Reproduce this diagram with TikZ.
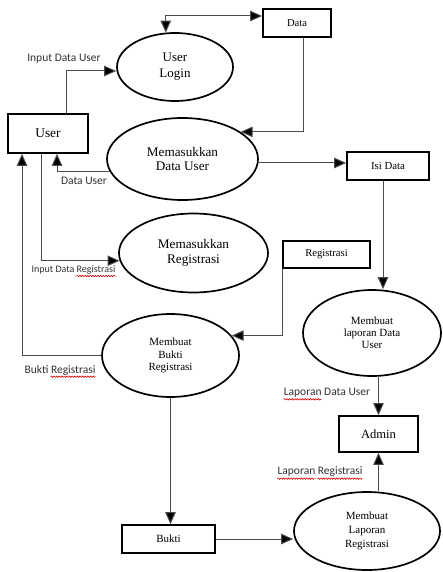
\documentclass[tikz,border=0pt]{standalone}
\usepackage{fontspec}
\setmainfont{Liberation Serif}
\newfontfamily\lblfont{Carlito}
\usetikzlibrary{arrows.meta,calc,shapes.geometric,decorations.pathmorphing}
\begin{document}
\begin{tikzpicture}[x=1pt,y=-1pt,
  proc/.style={ellipse,draw=black,line width=1.7pt,inner sep=0pt,align=center},
  store/.style={rectangle,draw=black,line width=1.7pt,inner sep=0pt,align=center},
  tip/.style={Triangle[length=12pt,width=10.5pt,fill=black]},
  conn/.style={draw=black!70,line width=1pt,-{Triangle[length=12pt,width=10.5pt,fill=black]}},
  conn2/.style={draw=black!70,line width=1pt,{Triangle[length=12pt,width=10.5pt,fill=black]}-{Triangle[length=12pt,width=10.5pt,fill=black]}},
  lbl/.style={inner sep=0pt,text=black!80,font=\lblfont\fontsize{11.5}{13}\selectfont},
  squig/.style={draw=red!85!black,line width=0.6pt,decorate,decoration={snake,amplitude=0.7pt,segment length=2.6pt}}
]
\useasboundingbox (0,0) rectangle (443,572);
\fill[white] (0,0) rectangle (443,572);

% processes
\node[proc,minimum width=116pt,minimum height=68pt,font=\fontsize{13}{16}\selectfont] (login) at (175,67) {User\\Login};
\node[proc,minimum width=151pt,minimum height=82pt,font=\fontsize{13.2}{14.5}\selectfont] (mdu) at (182.5,159) {Memasukkan\\Data User};
\node[proc,minimum width=149pt,minimum height=79pt,font=\fontsize{13.2}{15}\selectfont] (mr) at (193.5,253) {Memasukkan\\Registrasi};
\node[proc,minimum width=137pt,minimum height=83pt,font=\fontsize{11}{12.7}\selectfont] (mbr) at (170.5,355.5) {Membuat\\Bukti\\Registrasi};
\node[proc,minimum width=138pt,minimum height=86pt,font=\fontsize{11}{12}\selectfont] (mlu) at (372,333) {Membuat\\laporan Data\\User};
\node[proc,minimum width=146pt,minimum height=78pt,font=\fontsize{11}{14}\selectfont] (mlr) at (367,531) {Membuat\\Laporan\\Registrasi};

% entities / stores
\node[store,minimum width=68pt,minimum height=28pt,font=\fontsize{10.6}{12}\selectfont] (data) at (297,23) {Data};
\node[store,minimum width=80pt,minimum height=39pt,font=\fontsize{13.4}{15}\selectfont] (user) at (48,133.5) {User};
\node[store,minimum width=82pt,minimum height=28pt,font=\fontsize{10.8}{12}\selectfont] (isi) at (388,166) {Isi Data};
\node[store,minimum width=87pt,minimum height=27pt,font=\fontsize{10.6}{12}\selectfont] (reg) at (326.5,254.5) {Registrasi};
\node[store,minimum width=79pt,minimum height=36pt,font=\fontsize{12.6}{14}\selectfont] (admin) at (378.5,434) {Admin};
\node[store,minimum width=93pt,minimum height=28pt,font=\fontsize{11}{12}\selectfont] (bukti) at (168.5,539) {Bukti};

% connectors
\draw[conn2] (login.105) |- ([yshift=7pt]data.west);
\draw[conn] ([xshift=18pt]user.north) |- ([yshift=-4pt]login.west);
\draw[conn] (mdu.190) -| ([xshift=9pt]user.south);
\draw[conn] ([xshift=6pt]data.south) |- (mdu.25);
\draw[conn] (mdu.357) -- (mdu.357 -| isi.west);
\coordinate (isiout) at ([xshift=-5pt]isi.south);
\draw[conn] (isiout) -- (isiout |- mlu.north);
\draw[conn] (admin.north |- mlu.south) -- (admin.north);
\draw[conn] (admin.south |- mlr.north) -- (admin.south);
\draw[conn] (bukti.east) -- (bukti.east -| mlr.west);
\draw[conn] (mbr.south) -- (mbr.south |- bukti.north);
\draw[conn] (reg.south west) |- (mbr.18);
\draw[conn] ([xshift=-7pt]user.south) |- (mr.186);
\draw[conn] (mbr.west) -| ([xshift=-26pt]user.south);

% labels
\node[lbl] (l1) at (64,59) {Input Data User};
\node[lbl] (l2) at (84,181) {Data User};
\node[lbl,font=\lblfont\fontsize{10}{12}\selectfont] (l3) at (73.5,270) {Input Data Registrasi};
\node[lbl] (l4) at (60,370) {Bukti Registrasi};
\node[lbl] (l5) at (327,393) {Laporan Data User};
\node[lbl] (l6) at (320,472) {Laporan Registrasi};

% spell-check underlines
\draw[squig] ([xshift=-39pt,yshift=-1.5pt]l3.south east) -- ([yshift=-1.5pt]l3.south east);
\draw[squig] ([xshift=-45pt,yshift=-1.5pt]l4.south east) -- ([yshift=-1.5pt]l4.south east);
\draw[squig] ([yshift=-1.5pt]l5.south west) -- ([xshift=38pt,yshift=-1.5pt]l5.south west);
\draw[squig] ([yshift=-1.5pt]l6.south west) -- ([xshift=38pt,yshift=-1.5pt]l6.south west);
\draw[squig] ([xshift=-45pt,yshift=-1.5pt]l6.south east) -- ([yshift=-1.5pt]l6.south east);
\end{tikzpicture}
\end{document}
